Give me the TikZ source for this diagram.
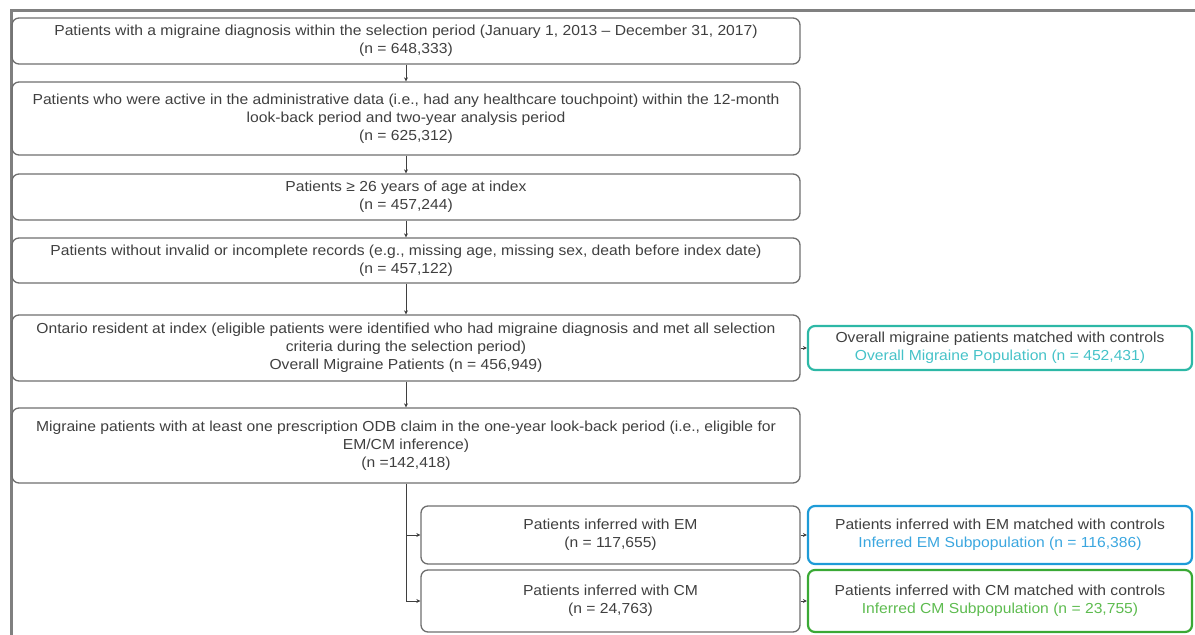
\documentclass[tikz,border=0pt]{standalone}
\usepackage{fontspec}
\setmainfont{Liberation Sans}[FakeStretch=1.08]
\usepackage{xcolor}
\usetikzlibrary{arrows.meta,positioning}

\definecolor{boxgray}{HTML}{6E6E6E}
\definecolor{txtgray}{HTML}{3F3F3F}
\definecolor{teal1}{HTML}{2DB8A6}
\definecolor{tealtxt}{HTML}{45C2C8}
\definecolor{blue1}{HTML}{1E9BD7}
\definecolor{bluetxt}{HTML}{3AA6DF}
\definecolor{green1}{HTML}{3AA935}
\definecolor{greentxt}{HTML}{5DBB4F}

\tikzset{
  flowbox/.style={draw=boxgray, line width=1.3pt, rounded corners=7pt,
    align=center, inner sep=0pt, text=txtgray,
    font=\fontsize{14.5}{17.8}\selectfont},
  matchbox/.style={flowbox, draw=#1, line width=2.2pt},
  flowarrow/.style={draw=txtgray, line width=0.8pt,
    -{Stealth[length=4pt,width=4pt]}},
}

\begin{document}
\begin{tikzpicture}[x=1pt, y=-1pt]
\useasboundingbox (0,0) rectangle (1195,635);

% frame
\draw[gray, line width=3pt] (11,635) -- (11,10) -- (1195,10);

% main column
\node[flowbox, minimum width=788pt, minimum height=46pt] (diag) at (406,41)
  {Patients with a migraine diagnosis within the selection period (January 1, 2013 -- December 31, 2017)\\(n = 648,333)};
\node[flowbox, minimum width=788pt, minimum height=73pt] (active) at (406,118.5)
  {Patients who were active in the administrative data (i.e., had any healthcare touchpoint) within the 12-month\\look-back period and two-year analysis period\\(n = 625,312)};
\node[flowbox, minimum width=788pt, minimum height=46pt] (age) at (406,197)
  {Patients ≥ 26 years of age at index\\(n = 457,244)};
\node[flowbox, minimum width=788pt, minimum height=45pt] (valid) at (406,260.5)
  {Patients without invalid or incomplete records (e.g., missing age, missing sex, death before index date)\\(n = 457,122)};
\node[flowbox, minimum width=788pt, minimum height=66pt] (ontario) at (406,348)
  {Ontario resident at index (eligible patients were identified who had migraine diagnosis and met all selection\\criteria during the selection period)\\Overall Migraine Patients (n = 456,949)};
\node[flowbox, minimum width=788pt, minimum height=75pt] (odb) at (406,445.5)
  {Migraine patients with at least one prescription ODB claim in the one-year look-back period (i.e., eligible for\\EM/CM inference)\\(n =142,418)};

% EM / CM split
\node[flowbox, minimum width=379pt, minimum height=58pt] (em) at (610.5,535)
  {Patients inferred with EM\\(n = 117,655)};
\node[flowbox, minimum width=379pt, minimum height=62pt] (cm) at (610.5,601)
  {Patients inferred with CM\\(n = 24,763)};

% matched populations
\node[matchbox=teal1, minimum width=384pt, minimum height=44pt] (allmatch) at (1000,348)
  {Overall migraine patients matched with controls\\\textcolor{tealtxt}{Overall Migraine Population (n = 452,431)}};
\node[matchbox=blue1, minimum width=384pt, minimum height=58pt] (emmatch) at (1000,535)
  {Patients inferred with EM matched with controls\\\textcolor{bluetxt}{Inferred EM Subpopulation (n = 116,386)}};
\node[matchbox=green1, minimum width=384pt, minimum height=62pt] (cmmatch) at (1000,601)
  {Patients inferred with CM matched with controls\\\textcolor{greentxt}{Inferred CM Subpopulation (n = 23,755)}};

% connectors
\draw[flowarrow] (diag) -- (active);
\draw[flowarrow] (active) -- (age);
\draw[flowarrow] (age) -- (valid);
\draw[flowarrow] (valid) -- (ontario);
\draw[flowarrow] (ontario) -- (odb);
\draw[flowarrow] (odb.south) -- (odb.south |- cm.west) -- (cm.west);
\draw[flowarrow] (odb.south |- em.west) -- (em.west);
\draw[flowarrow] (ontario) -- (allmatch);
\draw[flowarrow] (em) -- (emmatch);
\draw[flowarrow] (cm) -- (cmmatch);
\end{tikzpicture}
\end{document}
